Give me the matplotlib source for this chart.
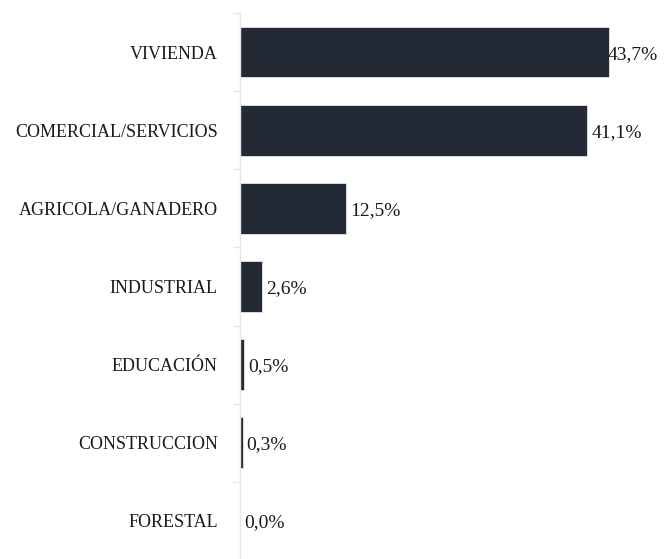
import numpy as np
import matplotlib
matplotlib.use("Agg")
import matplotlib.pyplot as plt

# data
categories = ["VIVIENDA", "COMERCIAL/SERVICIOS", "AGRICOLA/GANADERO", "INDUSTRIAL",
              "EDUCACIÓN", "CONSTRUCCION", "FORESTAL"]
values = [43.7, 41.1, 12.5, 2.6, 0.5, 0.3, 0.0]
value_labels = ["43,7%", "41,1%", "12,5%", "2,6%", "0,5%", "0,3%", "0,0%"]

plt.rcParams['font.family'] = ['Liberation Serif', 'DejaVu Serif']

fig = plt.figure(figsize=(6.64, 5.59), dpi=100)
ax = fig.add_axes([240 / 664, -1 / 559, 424 / 664, 547 / 559])

y = np.arange(len(categories))
ax.barh(y, values, height=0.65, color='#232a35', edgecolor='#e6e6e6', linewidth=0.6)

for yi, v, lab in zip(y, values, value_labels):
    # the top label is nudged left so it stays inside the figure
    dx = 3 if v < 43 else -1
    ax.annotate(lab, (v, yi), xytext=(dx, -1.5), textcoords='offset points',
                va='center', ha='left', fontsize=14, color='#1a1a1a')

ax.set_xlim(0, 424 / 8.445)
ax.set_ylim(len(categories) - 0.5, -0.5)

ax.set_yticks(y)
ax.set_yticklabels(categories, fontsize=13, color='#1a1a1a')
ax.set_yticks(np.arange(len(categories) + 1) - 0.5, minor=True)
ax.tick_params(axis='y', which='major', length=0, pad=16)
ax.tick_params(axis='y', which='minor', length=5, color='#e6e6e6', width=1)
ax.set_xticks([])

for s in ['top', 'right', 'bottom']:
    ax.spines[s].set_visible(False)
ax.spines['left'].set_color('#e6e6e6')
ax.spines['left'].set_linewidth(1)

fig.savefig('out.png', dpi=100)
